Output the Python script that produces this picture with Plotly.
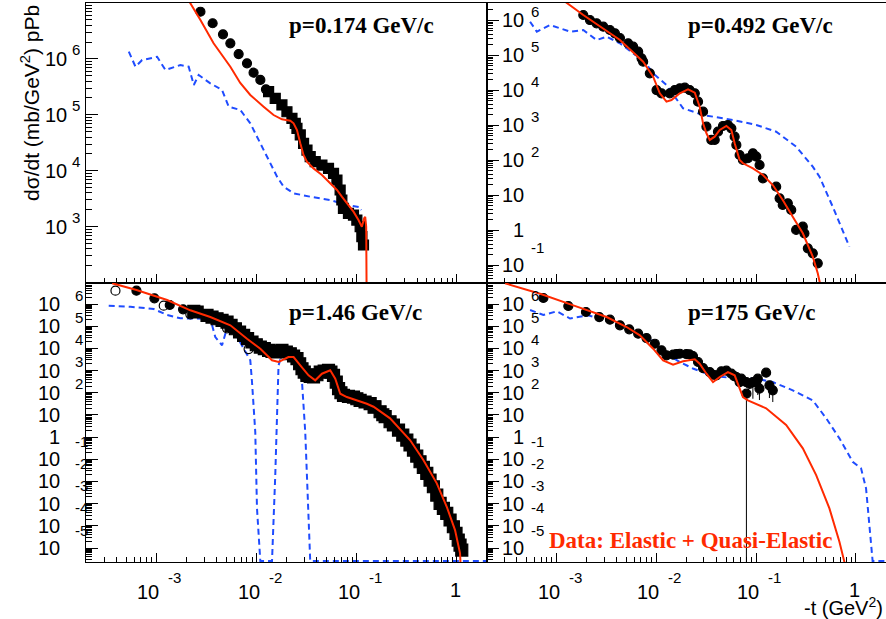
import plotly.graph_objects as go

W, H = 886, 619
RED = "#ff2a00"
BLUE = "#1f4cff"
FLOOR = 2.6e-6  # values drawn at the lower edge of the 1.46 / 175 GeV/c frames

# ---------------- p = 0.174 GeV/c (top left) ----------------
A_CIRC_T = [2.75e-3, 3.64e-3, 4.62e-3, 5.47e-3, 6.62e-3, 8.02e-3, 9.33e-3, 1.09e-2, 1.24e-2]
A_CIRC_Y = [6.98e6, 4.34e6, 2.75e6, 1.90e6, 1.22e6, 8.34e5, 5.66e5, 4.20e5, 2.86e5]
A_SQ_T = [0.01318, 0.01535, 0.0179, 0.02009, 0.02254, 0.02432, 0.02529, 0.02729, 0.02944,
          0.03184, 0.03428, 0.03846, 0.04487, 0.05224, 0.05861, 0.06339, 0.06823, 0.07096,
          0.07362, 0.0826, 0.09268, 0.1002, 0.1081, 0.1124, 0.1167]
A_SQ_Y = [2.59e5, 1.97e5, 1.50e5, 1.135e5, 8.65e4, 7.05e4, 5.73e4, 4.36e4, 3.09e4,
          2.34e4, 1.78e4, 1.45e4, 1.26e4, 1.10e4, 8.98e3, 6.82e3, 4.52e3, 2.99e3,
          2.12e3, 1.73e3, 1.61e3, 1.31e3, 995, 659, 469]
A_RED_T = [1.945e-3, 2.75e-3, 3.72e-3, 5.47e-3, 6.87e-3, 8.65e-3, 1.175e-2, 1.477e-2, 1.79e-2,
           2.17e-2, 2.34e-2, 2.53e-2, 2.73e-2, 2.94e-2, 3.18e-2, 3.70e-2, 4.49e-2, 5.43e-2,
           6.34e-2, 7.10e-2, 7.96e-2, 9.27e-2, 0.104, 0.1124, 0.1186, 0.1214, 0.1242, 0.1262]
A_RED_Y = [1.39e7, 4.97e6, 1.90e6, 7.24e5, 3.71e5, 2.26e5, 1.40e5, 9.91e4, 8.30e4,
           7.84e4, 7.04e4, 5.35e4, 3.09e4, 1.91e4, 1.45e4, 1.10e4, 8.38e3, 5.96e3,
           4.52e3, 3.43e3, 2.61e3, 1.85e3, 1.31e3, 995, 1.41e3, 1.50e3, 995, 10]
A_BLUE_T = [5.30e-4, 6.18e-4, 7.20e-4, 1.016e-3, 1.23e-3, 1.735e-3, 2.10e-3, 2.36e-3, 2.64e-3,
            3.45e-3, 4.52e-3, 5.26e-3, 6.87e-3, 8.65e-3, 1.009e-2, 1.175e-2, 1.37e-2, 1.60e-2,
            1.86e-2, 2.34e-2, 3.43e-2, 5.43e-2, 7.96e-2, 0.1081, 0.1107]
A_BLUE_Y = [1.35e6, 7.25e5, 9.55e5, 1.09e6, 6.33e5, 7.78e5, 7.25e5, 3.41e5, 5.15e5,
            3.66e5, 2.78e5, 1.40e5, 1.22e5, 7.04e4, 4.06e4, 2.34e4, 1.36e4, 7.82e3,
            5.18e3, 3.94e3, 3.43e3, 2.99e3, 2.43e3, 2.21e3, 1.98e3]

# ---------------- p = 0.492 GeV/c (top right) ----------------
B_CIRC_T = [1.854e-3, 2.163e-3, 2.52e-3, 2.94e-3, 3.43e-3, 3.85e-3, 4.32e-3, 5.22e-3, 5.86e-3,
            6.58e-3, 7.11e-3, 7.38e-3, 8.61e-3, 1.005e-2, 1.127e-2, 1.365e-2, 1.53e-2, 1.72e-2,
            1.93e-2, 2.16e-2, 2.43e-2, 2.62e-2, 2.94e-2, 3.18e-2, 3.56e-2, 3.85e-2, 4.15e-2,
            4.66e-2, 5.22e-2, 5.65e-2, 6.10e-2, 6.34e-2, 6.84e-2, 7.38e-2, 8.28e-2, 9.29e-2,
            0.1005, 0.1084, 0.117, 0.159, 0.172, 0.185, 0.208, 0.225, 0.252, 0.294, 0.305,
            0.330, 0.370, 0.415]
B_CIRC_Y = [1.435e6, 1.03e6, 8.30e5, 6.63e5, 5.34e5, 4.29e5, 3.15e5, 2.22e5, 1.78e5,
            1.28e5, 8.26e4, 6.61e4, 3.08e4, 1.02e4, 8.24e3, 8.24e3, 1.02e4, 1.145e4,
            1.19e4, 1.02e4, 8.24e3, 4.73e3, 2.45e3, 912, 380, 380, 656,
            955, 1.02e3, 820, 471, 273, 141, 102, 114, 158,
            126, 73, 30.4, 17.5, 8.13, 5.24, 5.85, 3.77, 1.01, 1.25, 0.81,
            0.30, 0.217, 0.112]
B_RED_T = [1.084e-3, 1.854e-3, 4.32e-3, 7.38e-3, 9.29e-3, 1.084e-2, 1.264e-2, 1.419e-2, 1.72e-2,
           2.08e-2, 2.43e-2, 2.72e-2, 2.94e-2, 3.18e-2, 3.43e-2, 3.85e-2, 4.32e-2, 5.04e-2,
           5.65e-2, 6.10e-2, 6.84e-2, 7.38e-2, 9.29e-2, 0.117, 0.147, 0.185, 0.233, 0.294,
           0.370, 0.415, 0.452]
B_RED_Y = [4.4e6, 1.435e6, 2.76e5, 6.61e4, 2.46e4, 8.24e3, 4.73e3, 5.29e3, 8.24e3,
           1.07e4, 8.57e3, 3.41e3, 1.14e3, 590, 380, 471, 733, 955,
           733, 305, 102, 81.7, 58.7, 37.8, 19.5, 7.28, 2.42, 0.81,
           0.173, 0.058, 0.0193]
B_BLUE_T = [5.43e-4, 6.34e-4, 8.61e-4, 1.365e-3, 1.854e-3, 2.52e-3, 3.18e-3, 4.32e-3, 5.86e-3,
            7.38e-3, 9.29e-3, 1.264e-2, 1.854e-2, 2.94e-2, 5.86e-2, 0.1005, 0.159, 0.252,
            0.370, 0.432, 0.586, 0.861]
B_BLUE_Y = [9.22e5, 4.78e5, 7.41e5, 4.78e5, 5.34e5, 2.76e5, 3.44e5, 2.22e5, 1.15e5,
            7.40e4, 3.08e4, 1.42e4, 3.06e3, 1.97e3, 1.42e3, 1.02e3, 656, 244,
            65.3, 33.8, 4.68, 0.335]

# ---------------- p = 1.46 GeV/c (bottom left) ----------------
C_OPEN_T = [3.90e-4, 1.183e-3, 2.18e-3, 5.07e-3, 8.32e-3]
C_OPEN_Y = [3.98e6, 8.38e5, 3.43e5, 8.02e4, 9.35e3]
C_CIRC_T = [6.32e-4, 9.55e-4, 1.358e-3, 1.845e-3, 2.36e-3]
C_CIRC_Y = [3.98e6, 1.81e6, 9.02e5, 5.77e5, 4.23e5]
C_SQ_T = [2.36e-3, 2.55e-3, 3.20e-3, 3.59e-3, 4.03e-3, 4.52e-3, 5.07e-3, 5.56e-3, 6.14e-3,
          6.76e-3, 7.42e-3, 8.13e-3, 9.00e-3, 9.93e-3, 1.089e-2, 1.194e-2, 1.318e-2, 1.425e-2,
          1.536e-2, 1.66e-2, 1.79e-2, 1.98e-2, 2.17e-2, 2.34e-2, 2.53e-2, 2.69e-2, 2.84e-2,
          2.99e-2, 3.18e-2, 3.43e-2, 3.70e-2, 4.00e-2, 4.32e-2, 4.73e-2, 5.22e-2, 5.52e-2,
          5.86e-2, 6.24e-2, 6.58e-2, 6.95e-2, 7.37e-2, 8.26e-2, 9.27e-2, 0.1002, 0.108,
          0.121, 0.136, 0.149, 0.152, 0.171, 0.182, 0.192, 0.215, 0.232, 0.261,
          0.288, 0.316, 0.340, 0.368, 0.397, 0.428, 0.462, 0.500, 0.539,
          0.582, 0.629, 0.679, 0.732, 0.791, 0.854, 0.921, 0.979, 1.03,
          1.074, 1.117]
C_SQ_Y = [4.69e5, 4.36e5, 3.10e5, 2.59e5, 2.17e5, 1.84e5, 1.54e5, 1.10e5, 7.69e4,
          5.47e4, 3.88e4, 2.73e4, 1.94e4, 1.46e4, 1.15e4, 9.66e3, 8.18e3, 7.37e3,
          6.86e3, 7.37e3, 8.18e3, 6.86e3, 5.74e3, 4.53e3, 3.42e3, 2.03e3, 1.21e3,
          859, 610, 550, 512, 649, 859, 953, 1.03e3, 859,
          610, 304, 152, 100, 76.5, 69.0, 64.1, 53.7, 45.5,
          38.2, 32.6, 22.7, 23.4, 13.9, 10.2, 8.30, 4.93, 3.51, 2.08,
          1.24, 0.738, 0.440, 0.261, 0.140, 0.0776, 0.0434, 0.0233, 0.0116,
          5.79e-3, 2.45e-3, 1.03e-3, 6.15e-4, 3.66e-4, 1.83e-4, 9.1e-5, 4.59e-5, 2.29e-5,
          1.36e-5, 8.1e-6]
C_RED_T = [3.61e-4, 6.32e-4, 1.279e-3, 2.18e-3, 3.45e-3, 5.47e-3, 8.02e-3, 1.089e-2, 1.425e-2,
           1.66e-2, 2.08e-2, 2.34e-2, 2.73e-2, 3.30e-2, 3.85e-2, 4.49e-2, 5.43e-2, 6.10e-2,
           6.84e-2, 7.96e-2, 0.126, 0.147, 0.215, 0.340, 0.462, 0.629, 0.791, 0.957,
           1.074, 1.12]
C_RED_Y = [8.57e6, 4.28e6, 1.51e6, 5.20e5, 2.59e5, 1.10e5, 2.73e4, 9.66e3, 2.90e3,
           2.43e3, 4.08e3, 4.08e3, 1.72e3, 610, 363, 721, 1.03e3, 429,
           90.4, 64.1, 32.0, 23.4, 7.03, 0.738, 0.0927, 8.24e-3, 7.26e-4, 6.47e-5,
           5.75e-6, 1e-7]
C_BLUE_T = [3.34e-4, 5.51e-4, 9.40e-4, 1.279e-3, 1.735e-3, 2.36e-3, 3.45e-3, 3.87e-3, 4.52e-3,
            5.26e-3, 6.38e-3, 7.71e-3, 8.65e-3, 9.00e-3, 9.33e-3, 9.70e-3, 1.009e-2, 1.089e-2,
            1.425e-2, 1.536e-2, 1.656e-2, 1.86e-2, 2.17e-2, 2.53e-2, 2.84e-2, 3.06e-2, 3.25e-2,
            3.43e-2, 1.95]
C_BLUE_Y = [8.38e5, 7.55e5, 5.96e5, 3.19e5, 2.27e5, 2.22e5, 2.17e5, 3.25e4, 1.37e4,
            1.54e5, 3.25e4, 8.18e3, 2.90e3, 304, 19.9, 1.69, 6.2e-4, FLOOR,
            FLOOR, 1.95e-2, 1.72e3, 9.86e3, 4.87e3, 3.42e3, 304, 1.69, 1.45e-3,
            FLOOR, FLOOR]

# ---------------- p = 175 GeV/c (bottom right) ----------------
D_CIRC_T = [7.38e-4, 1.312e-3, 1.972e-3, 2.68e-3, 3.43e-3, 4.32e-3, 5.35e-3, 6.58e-3, 7.98e-3,
            9.66e-3, 1.127e-2, 1.264e-2, 1.472e-2, 1.72e-2, 2.00e-2, 2.33e-2, 2.62e-2, 2.94e-2,
            3.43e-2, 4.00e-2, 4.49e-2, 5.04e-2, 5.65e-2, 6.34e-2, 7.11e-2, 7.98e-2, 8.00e-2,
            9.29e-2, 0.104, 0.108, 0.126, 0.136, 0.147,
            1.59e-2, 2.15e-2, 3.70e-2, 6.03e-2, 6.84e-2, 8.61e-2, 0.1005]
D_CIRC_Y = [1.87e6, 8.13e5, 4.36e5, 2.59e5, 1.96e5, 1.10e5, 7.23e4, 4.58e4, 2.93e4,
            1.62e4, 8.18e3, 4.87e3, 5.18e3, 5.74e3, 5.57e3, 4.53e3, 2.43e3, 1.30e3,
            859, 610, 925, 984, 721, 512, 429, 304, 90.4,
            304, 429, 152, 800, 216, 129,
            5.57e3, 5.4e3, 649, 563, 304, 253, 304]
D_ERR_T = [8.00e-2, 9.29e-2, 0.104, 0.108, 0.136, 0.147]
D_ERR_HI = [90.4, 304, 429, 152, 216, 129]
D_ERR_LO = [1e-8, 53.7, 78.9, 47.0, 57.8, 38.2]
D_RED_T = [3.05e-4, 6.84e-4, 1.472e-3, 3.18e-3, 5.04e-3, 6.84e-3, 9.29e-3, 1.17e-2, 1.472e-2,
           1.854e-2, 2.43e-2, 2.72e-2, 3.18e-2, 3.70e-2, 4.32e-2, 5.22e-2, 6.10e-2, 6.84e-2,
           7.38e-2, 8.28e-2, 0.126, 0.200, 0.294, 0.400, 0.543, 0.684, 0.767, 0.80]
D_RED_Y = [8.57e6, 2.91e6, 8.73e5, 2.59e5, 9.18e4, 3.88e4, 9.66e3, 2.90e3, 1.83e3,
           2.61e3, 3.21e3, 2.03e3, 721, 304, 512, 859, 610, 152,
           64.1, 45.5, 19.9, 3.51, 0.312, 0.0195, 6.15e-4, 1.92e-5, 2.4e-6, 1e-8]
D_BLUE_T = [5.43e-4, 7.38e-4, 1.005e-3, 1.365e-3, 2.07e-3, 3.18e-3, 5.04e-3, 5.86e-3, 7.98e-3,
            1.005e-2, 1.264e-2, 1.72e-2, 2.33e-2, 3.70e-2, 5.86e-2, 0.1005, 0.147, 0.233,
            0.370, 0.504, 0.684, 0.929, 1.127, 1.265, 1.472, 1.97]
D_BLUE_Y = [5.36e5, 3.19e5, 4.69e5, 2.22e5, 3.10e5, 1.80e5, 9.18e4, 5.47e4, 3.61e4,
            1.42e4, 5.74e3, 2.43e3, 1.24e3, 568, 461, 429, 304, 129,
            45.5, 7.03, 0.881, 0.0776, 0.0391, 4.91e-3, FLOOR, FLOOR]

# ---------------- axes / labels ----------------
X_RANGE = [-3.70, 0.297]
Y_RANGE_A = [2.0, 7.0]
Y_RANGE_B = [-1.5, 6.5]
Y_RANGE_CD = [-5.63, 6.97]
YT_A = [3, 4, 5, 6]
YT_B = [-1, 0, 1, 2, 3, 4, 5, 6]
YT_CD = [-5, -4, -3, -2, -1, 0, 1, 2, 3, 4, 5, 6]
XT = [-3, -2, -1, 0]
TITLES = ["p=0.174 GeV/c", "p=0.492 GeV/c", "p=1.46 GeV/c", "p=175 GeV/c"]

L_DOM = [86.3 / W, 486.7 / W]
R_DOM = [486.7 / W, 885.5 / W]
T_DOM = [1 - 282.5 / H, 1 - 3 / H]
B_DOM = [1 - 562 / H, 1 - 282.5 / H]

SANS = "Liberation Sans, Arial, sans-serif"
SERIF = "Liberation Serif, Times New Roman, serif"

fig = go.Figure()


def line(t, y, color, xa, ya, dash=None):
    fig.add_trace(go.Scatter(x=t, y=y, mode="lines", xaxis=xa, yaxis=ya,
                             line=dict(color=color, width=2, dash=dash), hoverinfo="skip"))


def pts(t, y, xa, ya, symbol="circle", size=9):
    fig.add_trace(go.Scatter(x=t, y=y, mode="markers", xaxis=xa, yaxis=ya,
                             marker=dict(symbol=symbol, size=size, color="black",
                                         line=dict(color="black", width=1.2)),
                             hoverinfo="skip"))


DASH = "6px,4px"
# top left
line(A_BLUE_T, A_BLUE_Y, BLUE, "x", "y", DASH)
pts(A_CIRC_T, A_CIRC_Y, "x", "y")
pts(A_SQ_T, A_SQ_Y, "x", "y", "square", 10)
line(A_RED_T, A_RED_Y, RED, "x", "y")
# top right
line(B_BLUE_T, B_BLUE_Y, BLUE, "x2", "y2", DASH)
pts(B_CIRC_T, B_CIRC_Y, "x2", "y2")
line(B_RED_T, B_RED_Y, RED, "x2", "y2")
# bottom left
line(C_BLUE_T, C_BLUE_Y, BLUE, "x3", "y3", DASH)
pts(C_SQ_T, C_SQ_Y, "x3", "y3", "square", 12)
pts(C_CIRC_T, C_CIRC_Y, "x3", "y3")
pts(C_OPEN_T, C_OPEN_Y, "x3", "y3", "circle-open", 9)
line(C_RED_T, C_RED_Y, RED, "x3", "y3")
# bottom right
ex, ey = [], []
for t, lo, hi in zip(D_ERR_T, D_ERR_LO, D_ERR_HI):
    ex += [t, t, None]
    ey += [lo, hi, None]
fig.add_trace(go.Scatter(x=ex, y=ey, mode="lines", xaxis="x4", yaxis="y4",
                         line=dict(color="black", width=1), hoverinfo="skip"))
line(D_BLUE_T, D_BLUE_Y, BLUE, "x4", "y4", DASH)
pts(D_CIRC_T, D_CIRC_Y, "x4", "y4")
line(D_RED_T, D_RED_Y, RED, "x4", "y4")


def xax(dom, anchor):
    return dict(type="log", range=X_RANGE, domain=dom, anchor=anchor, showline=True,
                linecolor="black", linewidth=1, mirror=True, ticks="inside", ticklen=9,
                tickwidth=1, tickcolor="black", dtick=1, showticklabels=False,
                showgrid=False, zeroline=False,
                minor=dict(ticks="inside", ticklen=5, dtick="D1", tickcolor="black",
                           showgrid=False))


def yax(rng, dom, anchor):
    return dict(type="log", range=rng, domain=dom, anchor=anchor, showline=True,
                linecolor="black", linewidth=1, mirror=True, ticks="inside", ticklen=12,
                tickwidth=1, tickcolor="black", dtick=1, showticklabels=False,
                showgrid=False, zeroline=False,
                minor=dict(ticks="inside", ticklen=6, dtick="D1", tickcolor="black",
                           showgrid=False))


fig.update_layout(
    width=W, height=H, margin=dict(l=0, r=0, t=0, b=0),
    paper_bgcolor="white", plot_bgcolor="white", showlegend=False,
    xaxis=xax(L_DOM, "y"), yaxis=yax(Y_RANGE_A, T_DOM, "x"),
    xaxis2=xax(R_DOM, "y2"), yaxis2=yax(Y_RANGE_B, T_DOM, "x2"),
    xaxis3=xax(L_DOM, "y3"), yaxis3=yax(Y_RANGE_CD, B_DOM, "x3"),
    xaxis4=xax(R_DOM, "y4"), yaxis4=yax(Y_RANGE_CD, B_DOM, "x4"),
)

ann = []


def ylabels(ticks, xdom, yref, lab_shift, exp_shift):
    for e in ticks:
        txt = "1" if e == 0 else "10"
        ann.append(dict(text=txt, xref=xdom, x=0, xanchor="right", xshift=lab_shift,
                        yref=yref, y=e, yanchor="middle", showarrow=False,
                        font=dict(family=SANS, size=20, color="black")))
        if e not in (0, 1):
            ann.append(dict(text=str(e), xref=xdom, x=0, xanchor="left", xshift=exp_shift,
                            yref=yref, y=e, yanchor="middle",
                            yshift=(9 if e > 0 else 18), showarrow=False,
                            font=dict(family=SANS, size=15, color="black")))


ylabels(YT_A, "x domain", "y", -17, -16.5)
ylabels(YT_B, "x2 domain", "y2", 39.5, 42.5)
ylabels(YT_CD, "x3 domain", "y3", -24, -13)
ylabels(YT_CD, "x4 domain", "y4", 39.5, 42.5)

for xr in ("x3", "x4"):
    for e in XT:
        if e == 0:
            ann.append(dict(text="1", xref=xr, x=e, xanchor="center", xshift=-1,
                            yref="paper", y=1 - 590 / H, yanchor="middle", showarrow=False,
                            font=dict(family=SANS, size=20, color="black")))
        else:
            ann.append(dict(text="10", xref=xr, x=e, xanchor="center", xshift=-8,
                            yref="paper", y=1 - 592 / H, yanchor="middle", showarrow=False,
                            font=dict(family=SANS, size=20, color="black")))
            ann.append(dict(text=str(e), xref=xr, x=e, xanchor="left", xshift=10,
                            yref="paper", y=1 - 577 / H, yanchor="middle", showarrow=False,
                            font=dict(family=SANS, size=15, color="black")))

# panel titles
for (xd, ypx), title in zip([("x domain", 26), ("x2 domain", 25),
                             ("x3 domain", 312), ("x4 domain", 312)], TITLES):
    ann.append(dict(text="<b>" + title + "</b>", xref=xd, x=0.5, xanchor="left",
                    yref="paper", y=1 - ypx / H, yanchor="middle", showarrow=False,
                    font=dict(family=SERIF, size=23, color="black")))

ann.append(dict(text="<b>Data: Elastic + Quasi-Elastic</b>", xref="paper", x=547 / W,
                xanchor="left", yref="paper", y=1 - 540 / H, yanchor="middle",
                showarrow=False, font=dict(family=SERIF, size=23, color=RED)))

ann.append(dict(text="dσ/dt (mb/GeV<sup>2</sup>) pPb", xref="paper", x=30 / W,
                xanchor="center", yref="paper", y=1 - 3 / H, yanchor="top",
                textangle=-90, showarrow=False,
                font=dict(family=SANS, size=21, color="black")))
ann.append(dict(text="-t (GeV<sup>2</sup>)", xref="paper", x=885 / W, xanchor="right",
                yref="paper", y=1 - 606 / H, yanchor="middle", showarrow=False,
                font=dict(family=SANS, size=20, color="black")))

fig.update_layout(annotations=ann)
fig.write_html("out.html")
